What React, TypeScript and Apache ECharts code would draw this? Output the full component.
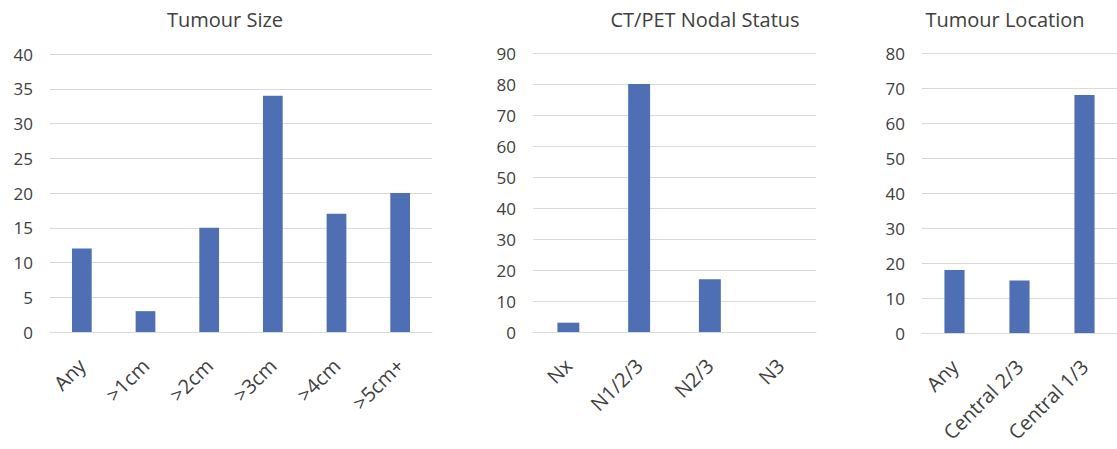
import React, { useEffect, useRef } from "react";
import * as echarts from "echarts";

const sizeCategories = ["Any", ">1cm", ">2cm", ">3cm", ">4cm", ">5cm+"];
const sizeValues = [12, 3, 15, 34, 17, 20];

const nodalCategories = ["Nx", "N1/2/3", "N2/3", "N3"];
const nodalValues = [3, 80, 17, 0];

const locationCategories = ["Any", "Central 2/3", "Central 1/3"];
const locationValues = [18, 15, 68];

const titles = ["Tumour Size", "CT/PET Nodal Status", "Tumour Location"];
const yMax = [40, 90, 80];
const yStep = [5, 10, 10];

const TEXT = "#404040";
const GRID = "#d9d9d9";
const BAR = "#4f6fb5";
const FONT = "Open Sans";

export default function App() {
  const ref = useRef<HTMLDivElement>(null);
  useEffect(() => {
    if (!ref.current) return;
    const chart = echarts.init(ref.current, undefined, { renderer: "svg" });
    const grids = [
      { left: 50, top: 54, width: 382, height: 278 },
      { left: 533, top: 53, width: 283, height: 279 },
      { left: 922, top: 53, width: 195, height: 280 },
    ];
    const cats = [sizeCategories, nodalCategories, locationCategories];
    const vals = [sizeValues, nodalValues, locationValues];
    const titleX = [225, 705, 1005];
    chart.setOption({
      animation: false,
      backgroundColor: "#ffffff",
      grid: grids,
      xAxis: cats.map((c, i) => ({
        type: "category",
        gridIndex: i,
        data: c,
        axisLine: { show: true, lineStyle: { color: GRID, width: 1 } },
        axisTick: { show: false },
        axisLabel: {
          rotate: 45,
          margin: 30,
          color: TEXT,
          fontSize: 20,
          fontFamily: FONT,
          interval: 0,
        },
      })),
      yAxis: yMax.map((m, i) => ({
        type: "value",
        gridIndex: i,
        min: 0,
        max: m,
        interval: yStep[i],
        axisLine: { show: false },
        axisTick: { show: false },
        splitLine: { lineStyle: { color: GRID, width: 1 } },
        axisLabel: {
          margin: 17,
          color: TEXT,
          fontSize: 17,
          fontFamily: FONT,
        },
      })),
      series: vals.map((v, i) => ({
        type: "bar",
        xAxisIndex: i,
        yAxisIndex: i,
        data: v,
        barWidth: "31%",
        itemStyle: { color: BAR },
      })),
      graphic: titles.map((t, i) => ({
        type: "text",
        x: titleX[i],
        y: 9,
        style: {
          text: t,
          textAlign: "center",
          textVerticalAlign: "top",
          fontSize: 20,
          fontFamily: FONT,
          fill: TEXT,
        },
      })),
    });
    return () => chart.dispose();
  }, []);
  return (
    <div
      ref={ref}
      style={{ position: "fixed", left: 0, top: 0, width: 1117, height: 449 }}
    />
  );
}
